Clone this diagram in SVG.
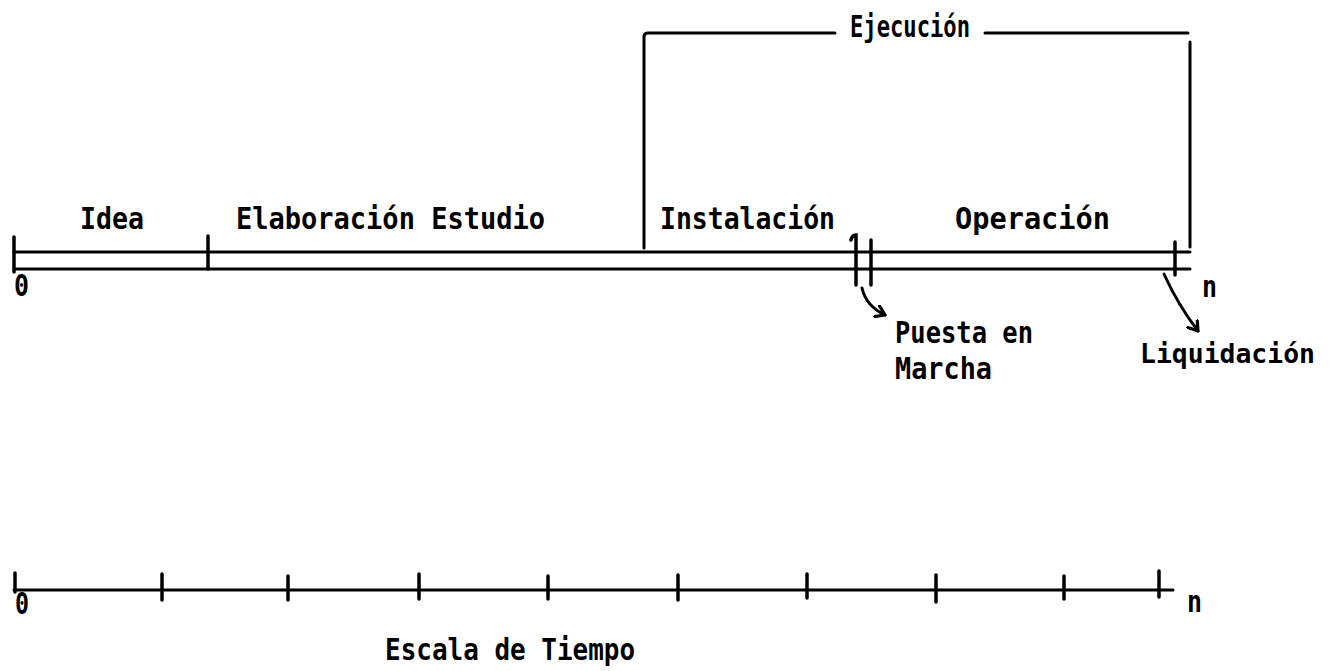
<svg xmlns="http://www.w3.org/2000/svg" width="1334" height="671" viewBox="0 0 1334 671">
<defs>
<style>
.ln{stroke:#000;stroke-width:3;fill:none;stroke-linecap:round}
.tk{stroke:#000;stroke-width:3.5;fill:none;stroke-linecap:round}
.t{font-family:"DejaVu Sans Mono","Liberation Mono",monospace;font-weight:bold;font-size:30px;fill:#000}
.s{font-size:27px}
</style>
<marker id="ah" markerWidth="14" markerHeight="14" refX="10" refY="7" orient="auto" markerUnits="userSpaceOnUse">
<path d="M1,1 L10,7 L1,13" stroke="#000" stroke-width="3.2" fill="none" stroke-linecap="round" stroke-linejoin="round"/>
</marker>
</defs>
<rect width="1334" height="671" fill="#fff"/>
<g id="timeline-top">
<line class="ln" x1="14" y1="252" x2="1190" y2="252"/>
<line class="ln" x1="14" y1="269" x2="1190" y2="269"/>
<line class="tk" x1="14" y1="237" x2="14" y2="272"/>
<line class="tk" x1="208" y1="236" x2="208" y2="269"/>
<path class="tk" d="M851,240 Q852,235 856,235 L856,285"/>
<line class="tk" x1="871" y1="240" x2="871" y2="285"/>
<line class="tk" x1="1175" y1="242" x2="1175" y2="275"/>
</g>
<g id="ejecucion">
<path class="ln" d="M644,248 L644,37 Q644,33 648,33 L835,33"/>
<path class="ln" d="M985,33 L1188,33"/>
<line class="ln" x1="1190" y1="42" x2="1190" y2="247"/>
<text class="t" x="850" y="37" textLength="120" lengthAdjust="spacingAndGlyphs">Ejecución</text>
</g>
<g id="idea"><text class="t" x="80" y="229" textLength="64" lengthAdjust="spacingAndGlyphs">Idea</text></g>
<g id="elaboracion"><text class="t" x="236" y="229" textLength="309" lengthAdjust="spacingAndGlyphs">Elaboración Estudio</text></g>
<g id="instalacion"><text class="t" x="660" y="229" textLength="175" lengthAdjust="spacingAndGlyphs">Instalación</text></g>
<g id="operacion"><text class="t" x="955" y="229" textLength="155" lengthAdjust="spacingAndGlyphs">Operación</text></g>
<g id="labels-top">
<text class="t" x="14" y="296" textLength="15" lengthAdjust="spacingAndGlyphs">0</text>
<text class="t" x="1202" y="297" textLength="15" lengthAdjust="spacingAndGlyphs">n</text>
</g>
<g id="puesta"><text class="t" x="895" y="343" textLength="138" lengthAdjust="spacingAndGlyphs">Puesta en</text><text class="t" x="895" y="379" textLength="97" lengthAdjust="spacingAndGlyphs">Marcha</text></g>
<g id="liquidacion"><text class="t s" x="1140" y="363" textLength="175" lengthAdjust="spacingAndGlyphs">Liquidación</text></g>
<g id="connectors">
<path class="ln" d="M862,288 Q866,306 885,315" marker-end="url(#ah)"/>
<path class="ln" d="M1164,274 Q1178,305 1198,331" marker-end="url(#ah)"/>
</g>
<g id="scale">
<line class="ln" x1="14" y1="590" x2="1173" y2="590"/>
<line class="tk" x1="15" y1="573" x2="15" y2="592"/>
<line class="tk" x1="162" y1="574" x2="162" y2="600"/>
<line class="tk" x1="288" y1="576" x2="288" y2="600"/>
<line class="tk" x1="419" y1="574" x2="419" y2="599"/>
<line class="tk" x1="548" y1="576" x2="548" y2="599"/>
<line class="tk" x1="678" y1="575" x2="678" y2="600"/>
<line class="tk" x1="807" y1="574" x2="807" y2="598"/>
<line class="tk" x1="936" y1="575" x2="936" y2="602"/>
<line class="tk" x1="1064" y1="576" x2="1064" y2="599"/>
<line class="tk" x1="1159" y1="571" x2="1159" y2="597"/>
<text class="t" x="15" y="614" textLength="14" lengthAdjust="spacingAndGlyphs">0</text>
<text class="t" x="1187" y="612" textLength="15" lengthAdjust="spacingAndGlyphs">n</text>
<text class="t" x="385" y="660" textLength="250" lengthAdjust="spacingAndGlyphs">Escala de Tiempo</text>
</g>
</svg>
